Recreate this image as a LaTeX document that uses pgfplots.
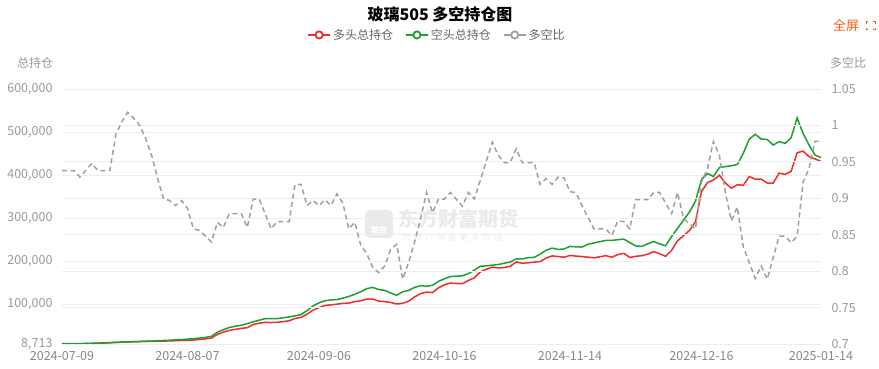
\documentclass[border=0pt]{standalone}
\usepackage{fontspec}
\setmainfont{Noto Sans CJK SC}
\usepackage{pgfplots}
\pgfplotsset{compat=1.18}
\usepackage{pgfplotstable}
\definecolor{longred}{HTML}{F22B2B}
\definecolor{shortgreen}{HTML}{1E9E2E}
\definecolor{ratiogray}{HTML}{A0A0A0}
\definecolor{gridc}{HTML}{EEEEEE}
\definecolor{tickc}{HTML}{999999}
\definecolor{xtickc}{HTML}{888888}
\definecolor{legc}{HTML}{666666}
\definecolor{fullc}{HTML}{FF5A14}
\definecolor{wm}{HTML}{EAEAEA}

\pgfplotstableread{
x y
0 8713
3 9000
6 10100
9 12300
12 14200
15 15000
18 15800
20 17000
22 18000
24 20500
25 22500
26 31000
27 36000
28 40500
29 42500
30 45000
31 46500
32 54000
33 57000
34 59000
35 58500
36 59000
37 60500
38 62500
39 68000
40 70500
41 78000
42 87000
43 93000
44 98000
45 99500
46 101000
47 103000
48 103500
49 107000
50 109000
51 113000
52 113000
53 108000
54 107000
55 105000
56 101500
57 103000
58 108000
59 118000
60 125500
61 129000
62 128000
63 139000
64 146000
65 150000
66 149000
67 148500
68 156000
69 162000
70 176000
71 182000
72 187000
73 185000
74 186000
75 189000
76 199000
77 196000
78 197000
79 198500
80 200000
81 208000
82 213000
83 211500
84 210000
85 214000
86 212500
87 211500
88 210000
89 208500
90 211000
91 213500
92 210000
93 216000
94 219000
95 209500
96 212000
97 213500
98 217000
99 223000
100 218000
101 212000
102 226000
103 248000
104 260000
105 272000
106 292000
107 362000
108 383000
109 389000
110 400000
111 382000
112 370000
113 378000
114 377000
115 397000
116 391000
117 391000
118 382000
119 382000
120 405000
121 402000
122 409000
123 452000
124 456000
125 443000
126 438000
127 432000
}\longtab

\pgfplotstableread{
x y
0 9290
3 9700
6 10800
9 12500
12 14000
15 15500
18 17500
20 19000
22 21000
24 24000
25 26500
26 36000
27 42000
28 47000
29 50000
30 52000
31 56000
32 60000
33 64000
34 67500
35 67500
36 67500
37 69500
38 71500
39 74000
40 77000
41 86000
42 97000
43 104000
44 109000
45 111000
46 111500
47 115000
48 119000
49 124000
50 130000
51 137000
52 140000
53 135000
54 133000
55 127000
56 121500
57 130000
58 133000
59 140000
60 144000
61 142500
62 145000
63 154000
64 160000
65 165000
66 166000
67 167000
68 172000
69 180000
70 189000
71 190000
72 191500
73 193000
74 196000
75 199000
76 206000
77 206000
78 209000
79 209500
80 217000
81 226000
82 231000
83 228000
84 229000
85 235000
86 234000
87 233500
88 240000
89 243000
90 246000
91 249000
92 249000
93 250500
94 252000
95 244000
96 236000
97 235000
98 241000
99 246500
100 241000
101 236500
102 258000
103 277000
104 296000
105 315000
106 340000
107 390000
108 404000
109 397000
110 418000
111 420000
112 422000
113 425000
114 451000
115 484000
116 495000
117 484000
118 483000
119 470000
120 478000
121 474000
122 487000
123 533000
124 497000
125 470000
126 447000
127 441000
}\shorttab

\pgfplotstableread{
x y
0 0.938
2 0.938
3 0.929
5 0.948
6 0.938
8 0.938
9 0.987
10 1.005
11 1.018
12 1.010
13 1.000
14 0.982
15 0.959
16 0.927
17 0.899
18 0.897
19 0.890
20 0.897
21 0.886
22 0.858
23 0.856
25 0.840
26 0.867
27 0.860
28 0.879
30 0.879
31 0.860
32 0.899
33 0.899
35 0.858
36 0.868
38 0.868
39 0.919
40 0.919
41 0.890
42 0.897
43 0.890
44 0.898
45 0.890
46 0.906
47 0.893
48 0.858
49 0.867
50 0.835
51 0.824
52 0.805
53 0.798
54 0.807
55 0.830
56 0.837
57 0.789
58 0.812
59 0.840
60 0.872
61 0.908
62 0.880
63 0.899
64 0.899
65 0.908
67 0.889
68 0.908
69 0.899
72 0.977
73 0.959
74 0.949
75 0.949
76 0.968
77 0.949
79 0.949
80 0.919
81 0.927
82 0.919
83 0.929
84 0.928
85 0.909
86 0.908
87 0.890
89 0.858
91 0.858
92 0.849
93 0.869
94 0.868
95 0.858
96 0.898
98 0.898
99 0.908
100 0.908
102 0.879
103 0.908
104 0.872
106 0.858
107 0.922
108 0.941
109 0.978
110 0.959
111 0.908
112 0.869
113 0.888
114 0.833
116 0.790
117 0.807
118 0.789
120 0.848
121 0.848
122 0.839
123 0.848
124 0.922
125 0.941
126 0.978
127 0.978
}\ratiotab

\pgfplotsset{
  base/.style={
    at={(62pt,25pt)}, anchor=south west,
    scale only axis, width=759pt, height=255pt,
    xmin=0, xmax=127,
    major tick length=0pt, tick style={draw=none},
    axis line style={draw=none},
    scaled y ticks=false, scaled x ticks=false,
    ymajorgrids, grid style={gridc, line width=0.8pt},
    ticklabel style={font=\fontsize{12.5}{14}\selectfont},
  }
}

\begin{document}
\begin{tikzpicture}
\useasboundingbox (0pt,0pt) rectangle (879pt,369pt);
% watermark
\fill[wm, rounded corners=5pt] (365pt,131pt) rectangle (393pt,159pt);
\node[text=white, font=\bfseries\fontsize{8}{9}\selectfont] at (379pt,139pt) {期货};
\node[text=wm, font=\bfseries\fontsize{20}{22}\selectfont, anchor=west, inner sep=0pt] at (398pt,150pt) {东方财富期货};
\node[text=wm, font=\fontsize{8.5}{10}\selectfont, anchor=west, inner sep=0pt] at (402pt,132pt) {\addfontfeatures{LetterSpace=35}为用户创造更多价值};

\begin{axis}[base,
  ymin=8713, ymax=600000,
  axis x line=bottom, axis y line=left,
  ytick={8713,100000,200000,300000,400000,500000,600000},
  yticklabels={{8,713},{100,000},{200,000},{300,000},{400,000},{500,000},{600,000}},
  yticklabel style={text=tickc, xshift=-6pt},
  xtick={0,21,43,64,85,107,127},
  xticklabels={2024-07-09,2024-08-07,2024-09-06,2024-10-16,2024-11-14,2024-12-16,2025-01-14},
  xticklabel style={text=xtickc, yshift=-4pt},
]
\addplot[longred, line width=1.5pt, mark=none] table {\longtab};
\addplot[shortgreen, line width=1.5pt, mark=none] table {\shorttab};
\end{axis}

\begin{axis}[base,
  ymin=0.7, ymax=1.05,
  axis y line*=right, axis x line=none,
  ytick={0.7,0.75,0.8,0.85,0.9,0.95,1,1.05},
  yticklabels={0.7,0.75,0.8,0.85,0.9,0.95,1,1.05},
  yticklabel style={text=tickc, xshift=7pt},
  legend style={at={(0.494,1.212)}, anchor=center, draw=none, fill=none,
    legend columns=3, font=\fontsize{12}{14}\selectfont, text=legc,
    /tikz/every even column/.append style={column sep=10pt}},
  legend cell align=left,
  legend image code/.code={
    \draw[#1, solid, line width=1.8pt] (0pt,0pt) -- (22pt,0pt);
    \draw[#1, solid, line width=1.8pt, fill=white] (11pt,0pt) circle (3.6pt);
  },
]
\addlegendimage{longred}
\addlegendentry{多头总持仓}
\addlegendimage{shortgreen}
\addlegendentry{空头总持仓}
\addplot[ratiogray, line width=1.5pt, dash pattern=on 5pt off 3.5pt, mark=none] table {\ratiotab};
\addlegendentry{多空比}
\end{axis}

% titles
\node[font=\bfseries\fontsize{16}{18}\selectfont] at (440pt,355pt) {玻璃505 多空持仓图};
\node[text=tickc, font=\fontsize{12}{14}\selectfont] at (35pt,306pt) {总持仓};
\node[text=tickc, font=\fontsize{12}{14}\selectfont] at (848pt,306pt) {多空比};
\node[text=fullc, font=\fontsize{13}{15}\selectfont] at (846pt,343pt) {全屏};
\draw[fullc, line width=1pt]
  (866pt,341pt) -- (866pt,339pt) -- (868pt,339pt)
  (873pt,339pt) -- (875pt,339pt) -- (875pt,341pt)
  (875pt,345pt) -- (875pt,347pt) -- (873pt,347pt)
  (868pt,347pt) -- (866pt,347pt) -- (866pt,345pt);
\end{tikzpicture}
\end{document}
